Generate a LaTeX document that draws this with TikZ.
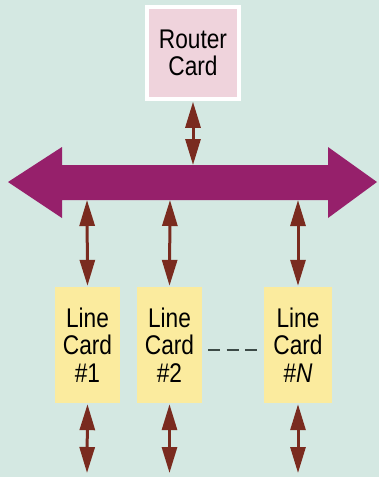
\documentclass[tikz,border=0pt]{standalone}
\usepackage{fontspec}
\setmainfont{Liberation Sans}[FakeStretch=0.84]
\usetikzlibrary{arrows.meta}
\definecolor{bg}{HTML}{D4E8E2}
\definecolor{buscol}{HTML}{96206B}
\definecolor{arrcol}{HTML}{7A2B1F}
\definecolor{pinkc}{HTML}{EFD3DC}
\definecolor{yelc}{HTML}{FBEB9E}
\definecolor{dashc}{HTML}{3C4A46}
\tikzset{
  cardbox/.style={fill=yelc, draw=none, minimum width=65pt, minimum height=116pt, inner sep=0pt, align=center, font=\fontsize{27}{27.5}\selectfont},
  routerbox/.style={fill=pinkc, draw=white, line width=3.5pt, minimum width=92pt, minimum height=92pt, inner sep=0pt, align=center, font=\fontsize{27}{27}\selectfont},
  dblarrow/.style={draw=arrcol, line width=3pt, {Triangle[length=26pt,width=15pt]}-{Triangle[length=26pt,width=15pt]}, shorten <=1pt, shorten >=1pt}
}
\begin{document}
\begin{tikzpicture}[x=1pt,y=-1pt]
\fill[bg] (0,0) rectangle (379,477);
\useasboundingbox (0,0) rectangle (379,477);
% bus arrow
\fill[buscol] (8,182) -- (62,147) -- (62,165) -- (328,165) -- (328,147) -- (377,182) -- (328,218) -- (328,200) -- (62,200) -- (62,218) -- cycle;
\coordinate (bustop) at (193,166);
\coordinate (busb1) at (87,199);
\coordinate (busb2) at (170,199);
\coordinate (busbN) at (298,199);
% router
\node[routerbox] (router) at (193,53) {Router\\Card};
% cards
\node[cardbox] (c1) at (87.5,345) {Line\\Card\\\#1};
\node[cardbox] (c2) at (169.5,345) {Line\\Card\\\#2};
\node[cardbox, minimum width=68pt] (cN) at (298,345) {Line\\Card\\\#\textit{N}};
% arrows
\draw[dblarrow] (router.south) -- (bustop);
\draw[dblarrow] (busb1) -- (c1.north);
\draw[dblarrow] (busb2) -- (c2.north);
\draw[dblarrow] (busbN) -- (cN.north);
\coordinate (e1) at (87,474);
\coordinate (e2) at (169.5,474);
\coordinate (eN) at (298,474);
\draw[dblarrow] (c1.south) -- (e1);
\draw[dblarrow] (c2.south) -- (e2);
\draw[dblarrow] (cN.south) -- (eN);
% dashes
\draw[dashc, line width=2.5pt, dash pattern=on 12pt off 6.5pt, shorten <=6pt, shorten >=7pt] (c2.east |- 0,350) -- (cN.west |- 0,350);
\end{tikzpicture}
\end{document}
